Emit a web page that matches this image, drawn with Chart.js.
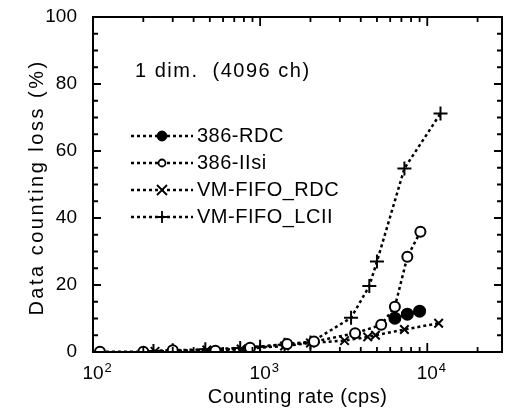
<!DOCTYPE html>
<html>
<head>
<meta charset="utf-8">
<script src="https://cdn.jsdelivr.net/npm/chart.js@4.4.1/dist/chart.umd.min.js"></script>
<style>
  html, body { margin: 0; padding: 0; background: #fff; }
  canvas { display: block; }
</style>
</head>
<body>
<canvas id="lossChart" width="511" height="416"></canvas>
<script>
// values (counting rate in cps, loss in %)
const rdcRate = [6400, 7600, 9000];
const rdcLoss = [10.1, 11.3, 12.2];

const iisiRate = [110, 200, 300, 540, 870, 1450, 2100, 3700, 5300, 6400, 7600, 9100];
const iisiLoss = [0.1, 0.1, 0.5, 0.4, 1.3, 2.4, 3.1, 5.6, 8.1, 13.5, 28.4, 35.9];

const fifoRdcRate = [235, 300, 480, 770, 1400, 2000, 3200, 4400, 4900, 7300, 11700];
const fifoRdcLoss = [0.2, 0.3, 0.6, 0.9, 1.8, 2.7, 3.4, 4.5, 5.0, 6.7, 8.6];

const lciiRate = [230, 300, 470, 760, 1000, 1400, 2000, 3500, 4500, 5000, 7300, 12000];
const lciiLoss = [0.3, 0.5, 0.8, 1.2, 1.6, 2.2, 2.8, 10.2, 19.7, 27, 54.8, 71.2];

const seriesNames = ['386-RDC', '386-IIsi', 'VM-FIFO_RDC', 'VM-FIFO_LCII'];
const yTicks = [0, 20, 40, 60, 80, 100];
const xDecades = [2, 3, 4];

const FONT = '"Liberation Sans", Arial, sans-serif';

function pts(xs, ys) {
  return xs.map((x, i) => ({ x: x, y: ys[i] }));
}

function lineSet(label, xs, ys, style, radius, fill) {
  return {
    label: label,
    data: pts(xs, ys),
    showLine: true,
    borderColor: '#000',
    borderWidth: 2.5,
    borderDash: [3, 3],
    pointStyle: style,
    pointRadius: radius,
    pointBorderWidth: 2,
    pointBorderColor: '#000',
    pointBackgroundColor: fill ? '#000' : '#fff'
  };
}

function drawMarker(ctx, style, x, y, r, fill) {
  ctx.save();
  ctx.setLineDash([]);
  ctx.lineWidth = 1.8;
  ctx.strokeStyle = '#000';
  ctx.beginPath();
  if (style === 'circle') {
    ctx.arc(x, y, r, 0, Math.PI * 2);
    ctx.fillStyle = fill ? '#000' : '#fff';
    ctx.fill();
    ctx.stroke();
  } else if (style === 'crossRot') {
    ctx.moveTo(x - r, y - r); ctx.lineTo(x + r, y + r);
    ctx.moveTo(x + r, y - r); ctx.lineTo(x - r, y + r);
    ctx.stroke();
  } else {
    ctx.moveTo(x - r, y); ctx.lineTo(x + r, y);
    ctx.moveTo(x, y - r); ctx.lineTo(x, y + r);
    ctx.stroke();
  }
  ctx.restore();
}

const frame = {
  id: 'frame',
  afterDraw(chart) {
    const ctx = chart.ctx;
    const a = chart.chartArea;
    const xs = chart.scales.x;
    const ys = chart.scales.y;
    ctx.save();
    ctx.strokeStyle = '#000';
    ctx.fillStyle = '#000';

    // box
    ctx.lineWidth = 2;
    ctx.strokeRect(a.left, a.top, a.right - a.left, a.bottom - a.top);

    // y ticks, inward on both sides
    ctx.lineWidth = 1.8;
    ctx.beginPath();
    for (let v = 0; v <= 100; v += 5) {
      const py = ys.getPixelForValue(v);
      const len = v % 20 === 0 ? 8 : 5;
      ctx.moveTo(a.left, py); ctx.lineTo(a.left + len, py);
      ctx.moveTo(a.right, py); ctx.lineTo(a.right - len, py);
    }
    // x ticks, log minor
    for (let d = 2; d <= 4; d++) {
      for (let m = 1; m <= 9; m++) {
        const val = m * Math.pow(10, d);
        if (val > xs.max) continue;
        const px = xs.getPixelForValue(val);
        const len = m === 1 ? 9 : 5;
        ctx.moveTo(px, a.bottom); ctx.lineTo(px, a.bottom - len);
        ctx.moveTo(px, a.top); ctx.lineTo(px, a.top + len);
      }
    }
    ctx.stroke();

    // y tick labels
    ctx.font = '19px ' + FONT;
    ctx.textAlign = 'right';
    ctx.textBaseline = 'middle';
    yTicks.forEach(v => ctx.fillText(String(v), a.left - 16, ys.getPixelForValue(v)));

    // x tick labels 10^n
    xDecades.forEach(d => {
      const px = xs.getPixelForValue(Math.pow(10, d));
      ctx.font = '19px ' + FONT;
      ctx.textAlign = 'center';
      ctx.textBaseline = 'middle';
      ctx.fillText('10', px, a.bottom + 22);
      const w = ctx.measureText('10').width;
      ctx.font = '13px ' + FONT;
      ctx.textAlign = 'left';
      ctx.fillText(String(d), px + w / 2 + 1, a.bottom + 16);
    });

    // axis titles
    ctx.font = '20px ' + FONT;
    ctx.textAlign = 'center';
    ctx.textBaseline = 'middle';
    ctx.letterSpacing = '0.5px';
    ctx.fillText('Counting rate (cps)', (a.left + a.right) / 2, 397);
    ctx.save();
    ctx.letterSpacing = '2.5px';
    ctx.translate(37, (a.top + a.bottom) / 2 + 3);
    ctx.rotate(-Math.PI / 2);
    ctx.fillText('Data counting loss (%)', 0, 0);
    ctx.restore();

    // annotation
    ctx.letterSpacing = '1.5px';
    ctx.textAlign = 'left';
    ctx.fillText('1 dim.  (4096 ch)', 135, 71);

    // legend inside the plot
    ctx.letterSpacing = '0.5px';
    const styles = ['circle', 'circle', 'crossRot', 'cross'];
    const fills = [true, false, false, false];
    const sizes = [4.5, 3.5, 5, 6];
    const rowY = [136, 163, 190, 217];
    seriesNames.forEach((name, i) => {
      const y = rowY[i];
      ctx.save();
      ctx.lineWidth = 2.5;
      ctx.setLineDash([3, 3]);
      ctx.beginPath();
      ctx.moveTo(131, y); ctx.lineTo(193, y);
      ctx.stroke();
      ctx.restore();
      drawMarker(ctx, styles[i], 162, y, sizes[i], fills[i]);
      ctx.fillText(name, 197, y);
    });

    ctx.restore();
  }
};

new Chart(document.getElementById('lossChart').getContext('2d'), {
  type: 'scatter',
  data: {
    datasets: [
      lineSet(seriesNames[0], rdcRate, rdcLoss, 'circle', 5.5, true),
      lineSet(seriesNames[1], iisiRate, iisiLoss, 'circle', 5, false),
      lineSet(seriesNames[2], fifoRdcRate, fifoRdcLoss, 'crossRot', 6, false),
      lineSet(seriesNames[3], lciiRate, lciiLoss, 'cross', 7, false)
    ]
  },
  options: {
    responsive: false,
    animation: false,
    layout: { padding: { top: 17, right: 4, left: 0, bottom: 0 } },
    plugins: { legend: { display: false }, tooltip: { enabled: false } },
    scales: {
      x: {
        type: 'logarithmic',
        min: 100,
        max: 28000,
        grid: { display: false },
        border: { display: false },
        ticks: { display: false },
        afterFit(s) { s.height = 64; }
      },
      y: {
        min: 0,
        max: 100,
        grid: { display: false },
        border: { display: false },
        ticks: { display: false },
        afterFit(s) { s.width = 93; }
      }
    }
  },
  plugins: [frame]
});
</script>
</body>
</html>
